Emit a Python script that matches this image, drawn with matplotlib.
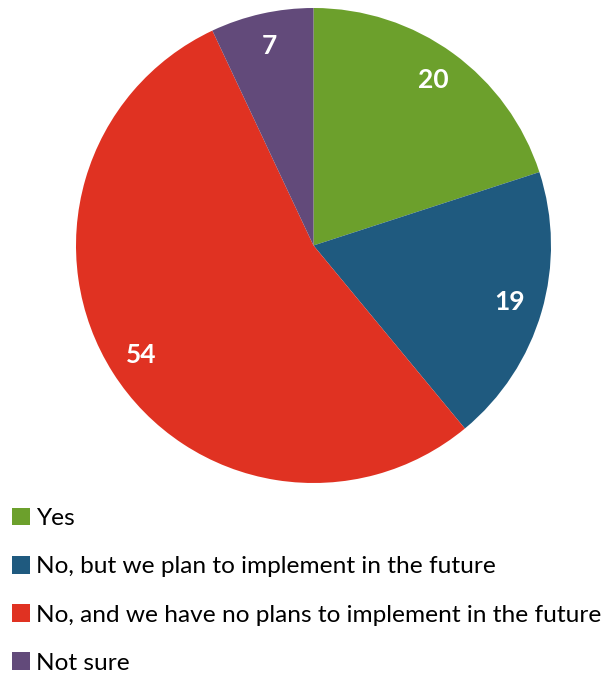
import matplotlib.pyplot as plt
from matplotlib.patches import Patch

plt.rcParams['font.family'] = ['Lato', 'DejaVu Sans']

labels = ['Yes',
          'No, but we plan to implement in the future',
          'No, and we have no plans to implement in the future',
          'Not sure']
values = [20, 19, 54, 7]
colors = ['#6ca02c', '#1f5a7f', '#e03222', '#624a7a']

W, H = 608, 673
fig = plt.figure(figsize=(W / 100, H / 100), dpi=100)

# pie area: centre (313.5, 245.5) px, radius ~237.5 px
cx, cy, r = 313.5, 245.5, 237.5
ax = fig.add_axes([(cx - r) / W, 1 - (cy + r) / H, 2 * r / W, 2 * r / H])

wedges, texts, autotexts = ax.pie(
    values, colors=colors, startangle=90, counterclock=False,
    autopct=lambda p: f'{p:.0f}', pctdistance=0.86, radius=1,
    textprops=dict(color='white', fontsize=19, fontweight='bold'))
ax.set_xlim(-1, 1)
ax.set_ylim(-1, 1)
ax.set_aspect('equal')
ax.axis('off')

handles = [Patch(facecolor=c, edgecolor='none') for c in colors]
fig.legend(handles, labels, loc='upper left', bbox_to_anchor=(12 / W, 1 - 508 / H),
           frameon=False, fontsize=17.6, handlelength=0.72, handleheight=0.72,
           handletextpad=0.25, labelspacing=1.1, borderaxespad=0, borderpad=0)

fig.savefig('out.png', dpi=100)
